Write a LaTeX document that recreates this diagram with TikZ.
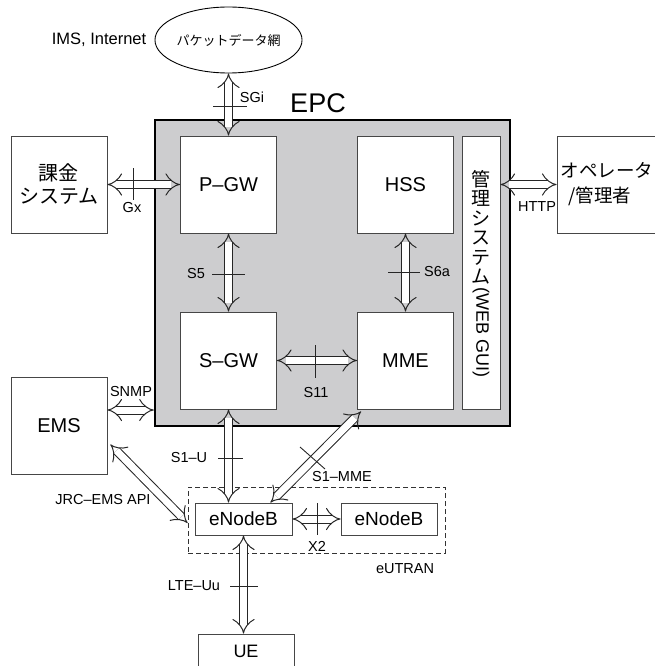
\documentclass[tikz,border=0pt]{standalone}
\usepackage{fontspec}
\setmainfont{Liberation Sans}
\newfontfamily\cjk{Noto Sans CJK JP}
\usetikzlibrary{arrows.meta,calc,shapes.geometric}
\definecolor{epcgray}{RGB}{205,205,207}
\definecolor{boxline}{RGB}{70,70,70}
\begin{document}
\begin{tikzpicture}[x=1pt,y=-1pt,
  box/.style={draw=boxline, line width=0.9pt, fill=white, minimum width=96pt, minimum height=97pt, inner sep=0pt},
  dbl/.style={draw=black!85, double=white, double distance=7pt, line width=1pt, {Implies}-{Implies}},
  tick/.style={draw=black!85, line width=0.9pt},
  lbl/.style={font=\fontsize{14.5}{16}\selectfont, inner sep=0pt},
  big/.style={font=\fontsize{20}{22}\selectfont},
  jp/.style={font=\cjk\fontsize{20}{23}\selectfont, align=center},
]
\useasboundingbox (0,0) rectangle (654,666);
% EPC frame
\node[draw=black, line width=2.5pt, fill=epcgray, minimum width=355pt, minimum height=306pt, inner sep=0pt] (epc) at (332.5,273) {};
\node[font=\fontsize{27}{30}\selectfont, inner sep=0pt] (epclbl) at (318,103) {EPC};
% packet network
\node[ellipse, draw=black, line width=0.9pt, minimum width=147pt, minimum height=66pt, inner sep=0pt, font=\cjk\fontsize{13}{15}\selectfont] (pkt) at (228.5,40) {パケットデータ網};
\node[font=\fontsize{16.5}{18}\selectfont, inner sep=0pt] (ims) at (99,40) {IMS, Internet};
% boxes
\node[box, jp] (kakin) at (59,184.5) {課金\\システム};
\node[box, big] (pgw) at (228.5,184.5) {P–GW};
\node[box, big] (hss) at (405.5,184.5) {HSS};
\node[box, big] (sgw) at (228.5,360.5) {S–GW};
\node[box, big] (mme) at (405.5,360.5) {MME};
\node[box, minimum width=38pt, minimum height=273pt] (mgmt) at (481,272.5) {};
\node[anchor=north, inner sep=0pt, align=center, font=\cjk\fontsize{19}{19.5}\selectfont] (mgmtlbl) at (481,170) {管\\理\\シ\\ス\\テ\\ム\\[-16pt]\rotatebox{-90}{\rmfamily\fontsize{18}{19}\selectfont (WEB GUI)}};
\node[box, minimum width=103pt, font=\cjk\fontsize{18.5}{25}\selectfont, align=left, text width=96pt] (oper) at (608.5,184.5) {オペレータ\\\hspace*{8pt}/管理者};
\node[box, big] (ems) at (59,425.5) {EMS};
\node[draw=black!80, dash pattern=on 5pt off 3pt, line width=0.8pt, minimum width=257pt, minimum height=66pt, inner sep=0pt] (eutran) at (316.5,520) {};
\node[box, minimum width=97pt, minimum height=32pt, font=\fontsize{19}{21}\selectfont] (enb1) at (243.5,519) {eNodeB};
\node[box, minimum width=96pt, minimum height=32pt, font=\fontsize{19}{21}\selectfont] (enb2) at (389,519) {eNodeB};
\node[box, minimum width=96pt, minimum height=34pt, font=\fontsize{18}{20}\selectfont] (ue) at (246,651) {UE};
% connectors
\draw[dbl] (pkt.south) -- (pgw.north);
\draw[dbl] (kakin.east) -- (pgw.west);
\draw[dbl] (pgw.south) -- (sgw.north);
\draw[dbl] (hss.south) -- (mme.north);
\draw[dbl] (mgmt.east |- oper.west) -- (oper.west);
\draw[dbl] (sgw.east) -- (mme.west);
\coordinate (snmpA) at ($(ems.east)+(0,-15.5)$);
\draw[dbl] (snmpA) -- (snmpA -| epc.west);
\draw[dbl] (sgw.south) -- (sgw.south |- enb1.north);
\draw[dbl] (enb1.east) -- (enb2.west);
\draw[dbl] (enb1.south) -- (enb1.south |- ue.north);
\coordinate (s1mA) at ($(enb1.north east)+(-22,0)$);
\coordinate (s1mB) at ($(mme.south west)+(4,2)$);
\draw[dbl] (s1mA) -- (s1mB);
\coordinate (jrcA) at ($(ems.east)+(3,19)$);
\coordinate (jrcB) at ($(enb1.west)+(-7,4)$);
\draw[dbl] (jrcA) -- (jrcB);
% ticks
\draw[tick] (213,106) -- (247,106);
\draw[tick] (133,168) -- (133,200);
\draw[tick] (212,274) -- (245,274);
\draw[tick] (388,272) -- (420,272);
\draw[tick] (315,345) -- (315,378);
\draw[tick] (218,458) -- (243,458);
\draw[tick] (300,447) -- (325,469);
\draw[tick] (317,503) -- (317,535);
\draw[tick] (230,586) -- (258,586);
% labels
\node[lbl] (lsgi) at (252,97) {SGi};
\node[lbl] (lgx) at (132,208) {Gx};
\node[lbl] (ls5) at (196,274) {S5};
\node[lbl] (ls6a) at (437,272) {S6a};
\node[lbl] (lhttp) at (537,207) {HTTP};
\node[lbl] (ls11) at (316,393) {S11};
\node[lbl] (lsnmp) at (131,392) {SNMP};
\node[lbl] (ls1u) at (189,458) {S1–U};
\node[lbl] (ljrc) at (103,500) {JRC–EMS API};
\node[lbl] (ls1mme) at (342,477) {S1–MME};
\node[lbl] (lx2) at (317,546) {X2};
\node[lbl] (leutran) at (405,569) {eUTRAN};
\node[lbl] (llte) at (194,586) {LTE–Uu};
\end{tikzpicture}
\end{document}
